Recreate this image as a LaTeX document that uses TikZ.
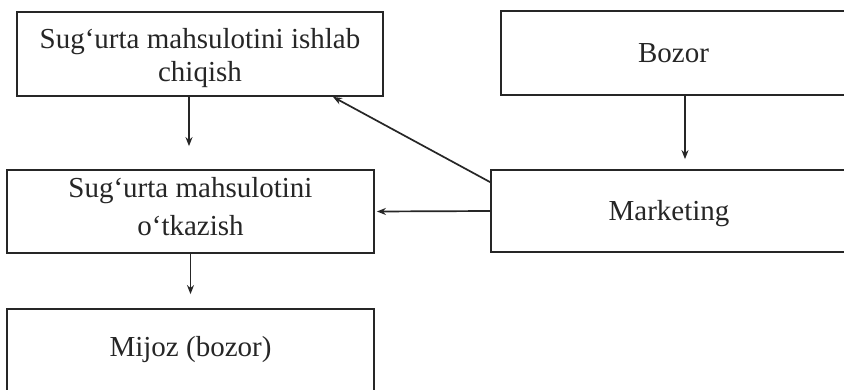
\documentclass[tikz,border=0pt]{standalone}
\usepackage{fontspec}
\setmainfont{Liberation Serif}
\usetikzlibrary{arrows.meta}
\begin{document}
\begin{tikzpicture}[x=1pt,y=-1pt,
  box/.style={draw=black!85, line width=1.8pt, rectangle, inner sep=0pt},
  lbl/.style={align=center, inner sep=0pt, font=\fontsize{29}{33}\selectfont, text=black!85},
  arr/.style={draw=black!85, line width=1.7pt, -{Stealth[length=9pt,width=7pt]}}]
\useasboundingbox[fill=white] (0,0) rectangle (844,389);
\node[box, minimum width=366pt, minimum height=84pt] (b1) at (200,54) {};
\node[lbl] (b1t) at ([yshift=-4pt]b1.center) {Sug‘urta mahsulotini ishlab\\chiqish};
\node[box, minimum width=345pt, minimum height=84pt] (bz) at (673.5,53) {};
\node[lbl] (bzt) at (bz.center) {Bozor};
\node[box, minimum width=367pt, minimum height=83pt] (b3) at (190.5,211.5) {};
\node[lbl] (b3t) at ([yshift=5pt]b3.center) {Sug‘urta mahsulotini\\[5pt]o‘tkazish};
\node[box, minimum width=356pt, minimum height=82pt] (mk) at (669,211) {};
\node[lbl] (mkt) at ([yshift=-3pt]mk.center) {Marketing};
\node[box, minimum width=367pt, minimum height=82pt] (mj) at (190.5,350) {};
\node[lbl] (mjt) at (mj.center) {Mijoz (bozor)};
\draw[arr, shorten >=23pt] ([xshift=-11pt]b1.south) -- ([xshift=-11pt]b1.south |- b3.north);
\draw[arr, shorten >=10pt] ([xshift=11.5pt]bz.south) -- ([xshift=11.5pt]bz.south |- mk.north);
\draw[arr, shorten >=2pt] (mk.west) -- (b3.east);
\draw[arr] ([yshift=-13pt]mk.north west) -- ([xshift=133pt]b1.south);
\draw[arr, shorten >=14pt] (b3.south) -- (mj.north);
\end{tikzpicture}
\end{document}
